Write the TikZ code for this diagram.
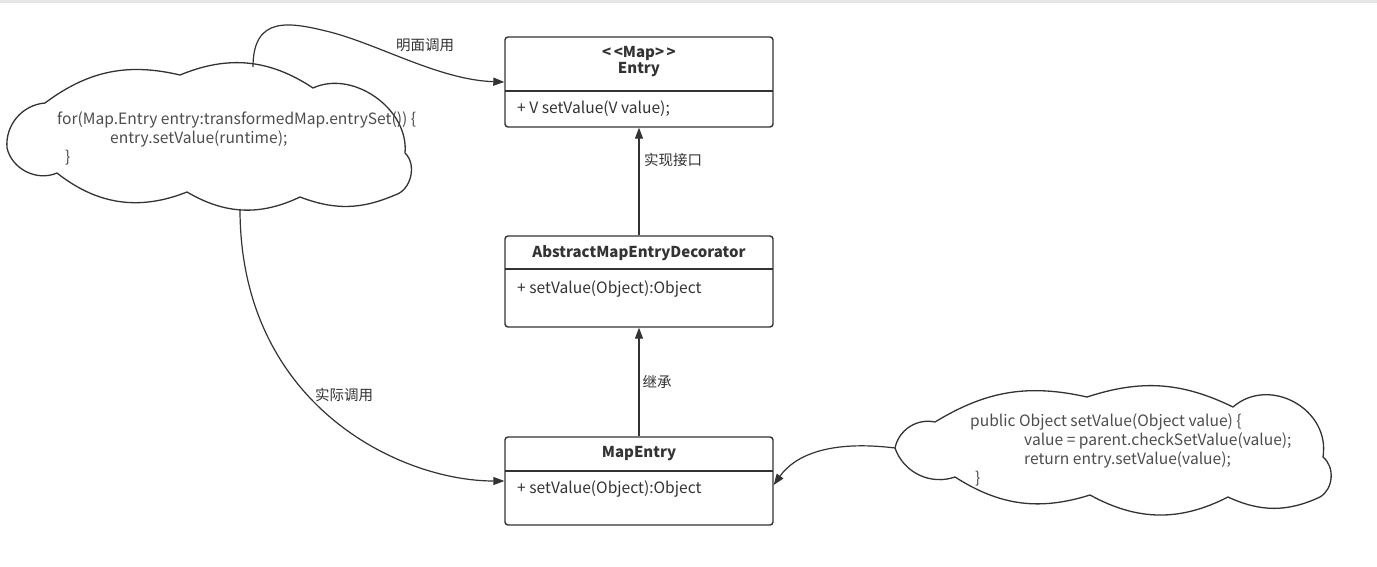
\documentclass[tikz,border=0pt]{standalone}
\usepackage{fontspec}
\setmainfont{Noto Sans CJK SC}
\usetikzlibrary{arrows.meta}
\definecolor{ln}{HTML}{333333}
\definecolor{tx}{HTML}{333333}
\definecolor{cd}{HTML}{4D4D4D}
\definecolor{topband}{HTML}{E6E6E6}
\tikzset{
  umlbox/.style={draw=ln,line width=1.4pt,rounded corners=3pt,minimum width=268pt,inner sep=0pt,fill=white},
  divider/.style={draw=ln,line width=1.2pt},
  title/.style={font=\fontsize{15}{17}\selectfont\bfseries,text=tx,align=center,inner sep=0pt},
  member/.style={font=\fontsize{15.6}{18}\selectfont,text=tx,anchor=west,inner sep=0pt},
  lbl/.style={font=\fontsize{14.5}{16}\selectfont,text=tx,inner sep=1pt},
  code/.style={font=\fontsize{15.6}{19}\selectfont,text=cd,align=left,anchor=north west,inner sep=0pt},
  bubble/.style={draw=ln,line width=1.3pt,fill=white},
  conn/.style={draw=ln,line width=1.2pt,-{Triangle[length=11pt,width=8pt]}},
}
\begin{document}
\begin{tikzpicture}[x=1pt,y=-1pt]
\useasboundingbox (0,0) rectangle (1377,567);
\fill[white] (0,0) rectangle (1377,567);
\fill[topband] (0,0) rectangle (1377,3);

% UML boxes
\node[umlbox,minimum height=90pt] (entry) at (639,82) {};
\draw[divider] (505,91) -- (773,91);
\node[title] (entryt) at (639,62) {{<}\,{<}Map{>}\,{>}\\[-1pt]Entry};
\node[member] (entrym) at (517,109) {+ V setValue(V value);};

\node[umlbox,minimum height=91pt] (abs) at (639,281.5) {};
\draw[divider] (505,269) -- (773,269);
\node[title] (abst) at (639,253) {AbstractMapEntryDecorator};
\node[member] (absm) at (517,289) {+ setValue(Object):Object};

\node[umlbox,minimum height=88pt] (me) at (639,481) {};
\draw[divider] (505,471) -- (773,471);
\node[title] (met) at (639,454) {MapEntry};
\node[member] (mem) at (517,489) {+ setValue(Object):Object};

% left cloud
\draw[bubble] (7,148) to[bend left=45] (45,103) to[bend left=25] (180,75)
  to[bend left=28] (313,88) to[bend left=60] (405,153) to[bend left=60] (395,195)
  to[bend left=22] (300,197) to[bend left=28] (187,192) to[bend left=30] (57,173)
  to[bend left=50] cycle;
\node[code] (c1t) at (57,112) {for(Map.Entry entry:transformedMap.entrySet()) \{\\\hspace*{53pt}entry.setValue(runtime);\\\hspace*{8pt}\}};

% right cloud
\draw[bubble] (895,448) to[bend left=45] (935,422) to[bend left=22] (1087,397)
  to[bend left=22] (1233,407) to[bend left=70,looseness=1.2] (1323,457)
  to[bend left=55] (1320,497) to[bend left=25] (1228,497) to[bend left=28] (1090,495)
  to[bend left=25] (955,477) to[bend left=45] cycle;
\node[code] (c2t) at (970,414) {public Object setValue(Object value) \{\\\hspace*{54pt}value = parent.checkSetValue(value);\\\hspace*{54pt}return entry.setValue(value);\\\hspace*{5pt}\}};

% connectors
\draw[conn] (abs.north) -- (entry.south);
\draw[conn] (me.north) -- (abs.south);
\coordinate (c1top) at (253,67);
\coordinate (c1bot) at (240,209);
\coordinate (c2w) at (895,448);
\draw[conn] (c1top) .. controls (253,15) and (290,22) .. (330,32)
  .. controls (380,45) and (440,80) .. (entry.west);
\draw[conn] (c1bot) .. controls (240,405) and (400,481) .. (me.west);
\draw[conn] (c2w) .. controls (830,440) and (795,455) .. ([yshift=-4pt]me.east);

% labels
\node[lbl] (l1) at (425,45) {明面调用};
\node[lbl] (l2) at (344,395) {实际调用};
\node[lbl] (l3) at (673,160) {实现接口};
\node[lbl] (l4) at (657,382) {继承};
\end{tikzpicture}
\end{document}
